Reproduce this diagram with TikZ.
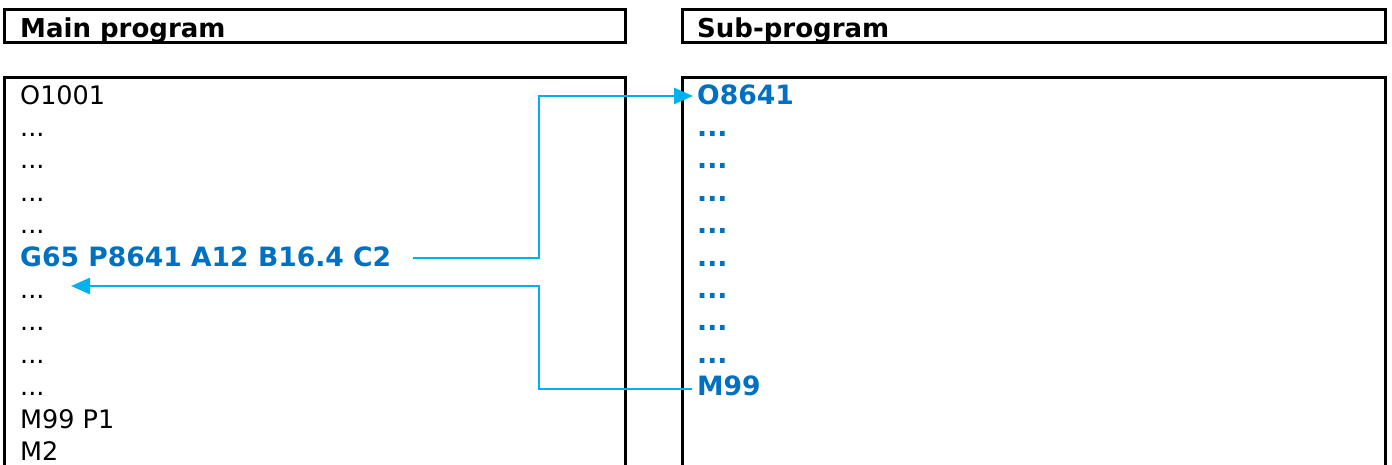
\documentclass[tikz,border=0pt]{standalone}
\usepackage{fontspec}
\setmainfont{DejaVu Sans}
\usetikzlibrary{arrows.meta}
\definecolor{codeblue}{HTML}{0070C0}
\definecolor{linkcyan}{HTML}{00B0F0}
\tikzset{
  frame/.style={draw=black, line width=3pt},
  txt/.style={anchor=base west, inner sep=0pt, font=\fontsize{25.5}{30}\selectfont},
  btxt/.style={anchor=base west, inner sep=0pt, font=\fontsize{26.6}{30}\selectfont\bfseries, text=codeblue},
  htxt/.style={anchor=base west, inner sep=0pt, font=\fontsize{26}{30}\selectfont\bfseries},
  link/.style={draw=linkcyan, line width=2.8pt, -{Triangle[length=19pt,width=16pt]}},
}
\begin{document}
\begin{tikzpicture}[x=1pt,y=-1pt]
\useasboundingbox (0,0) rectangle (1392,464);
% header boxes
\draw[frame] (4,9) rectangle (625,42);
\draw[frame] (682,9) rectangle (1385,42);
\node[htxt] (hmain) at (20,37) {Main program};
\node[htxt] (hsub) at (697,37) {Sub-program};
% body boxes (open at bottom)
\draw[frame] (4,470) -- (4,77) -- (625,77) -- (625,470);
\draw[frame] (682,470) -- (682,77) -- (1385,77) -- (1385,470);
% main program lines
\node[txt] (m0) at (20,104) {O1001};
\node[txt] (m1) at (20,136.4) {...};
\node[txt] (m2) at (20,168.8) {...};
\node[txt] (m3) at (20,201.2) {...};
\node[txt] (m4) at (20,233.6) {...};
\node[btxt] (call) at (20,266) {G65 P8641 A12 B16.4 C2};
\node[txt] (m6) at (20,298.4) {...};
\node[txt] (m7) at (20,330.8) {...};
\node[txt] (m8) at (20,363.2) {...};
\node[txt] (m9) at (20,395.6) {...};
\node[txt] (m10) at (20,428) {M99 P1};
\node[txt] (m11) at (20,460.4) {M2};
% sub program lines
\node[btxt] (s0) at (697,104) {O8641};
\foreach \i in {1,...,8}{
  \node[btxt] (s\i) at (697,104+32.4*\i) {...};
}
\node[btxt] (s9) at (697,395) {M99};
% connectors
\coordinate (callend) at (413,258);
\coordinate (subin) at (693,96);
\coordinate (subout) at (692,389);
\coordinate (ret) at (71,286);
\draw[link] (callend) -- (539,258) -- (539,96) -- (subin);
\draw[link] (subout) -- (539,389) -- (539,286) -- (ret);
\end{tikzpicture}
\end{document}
